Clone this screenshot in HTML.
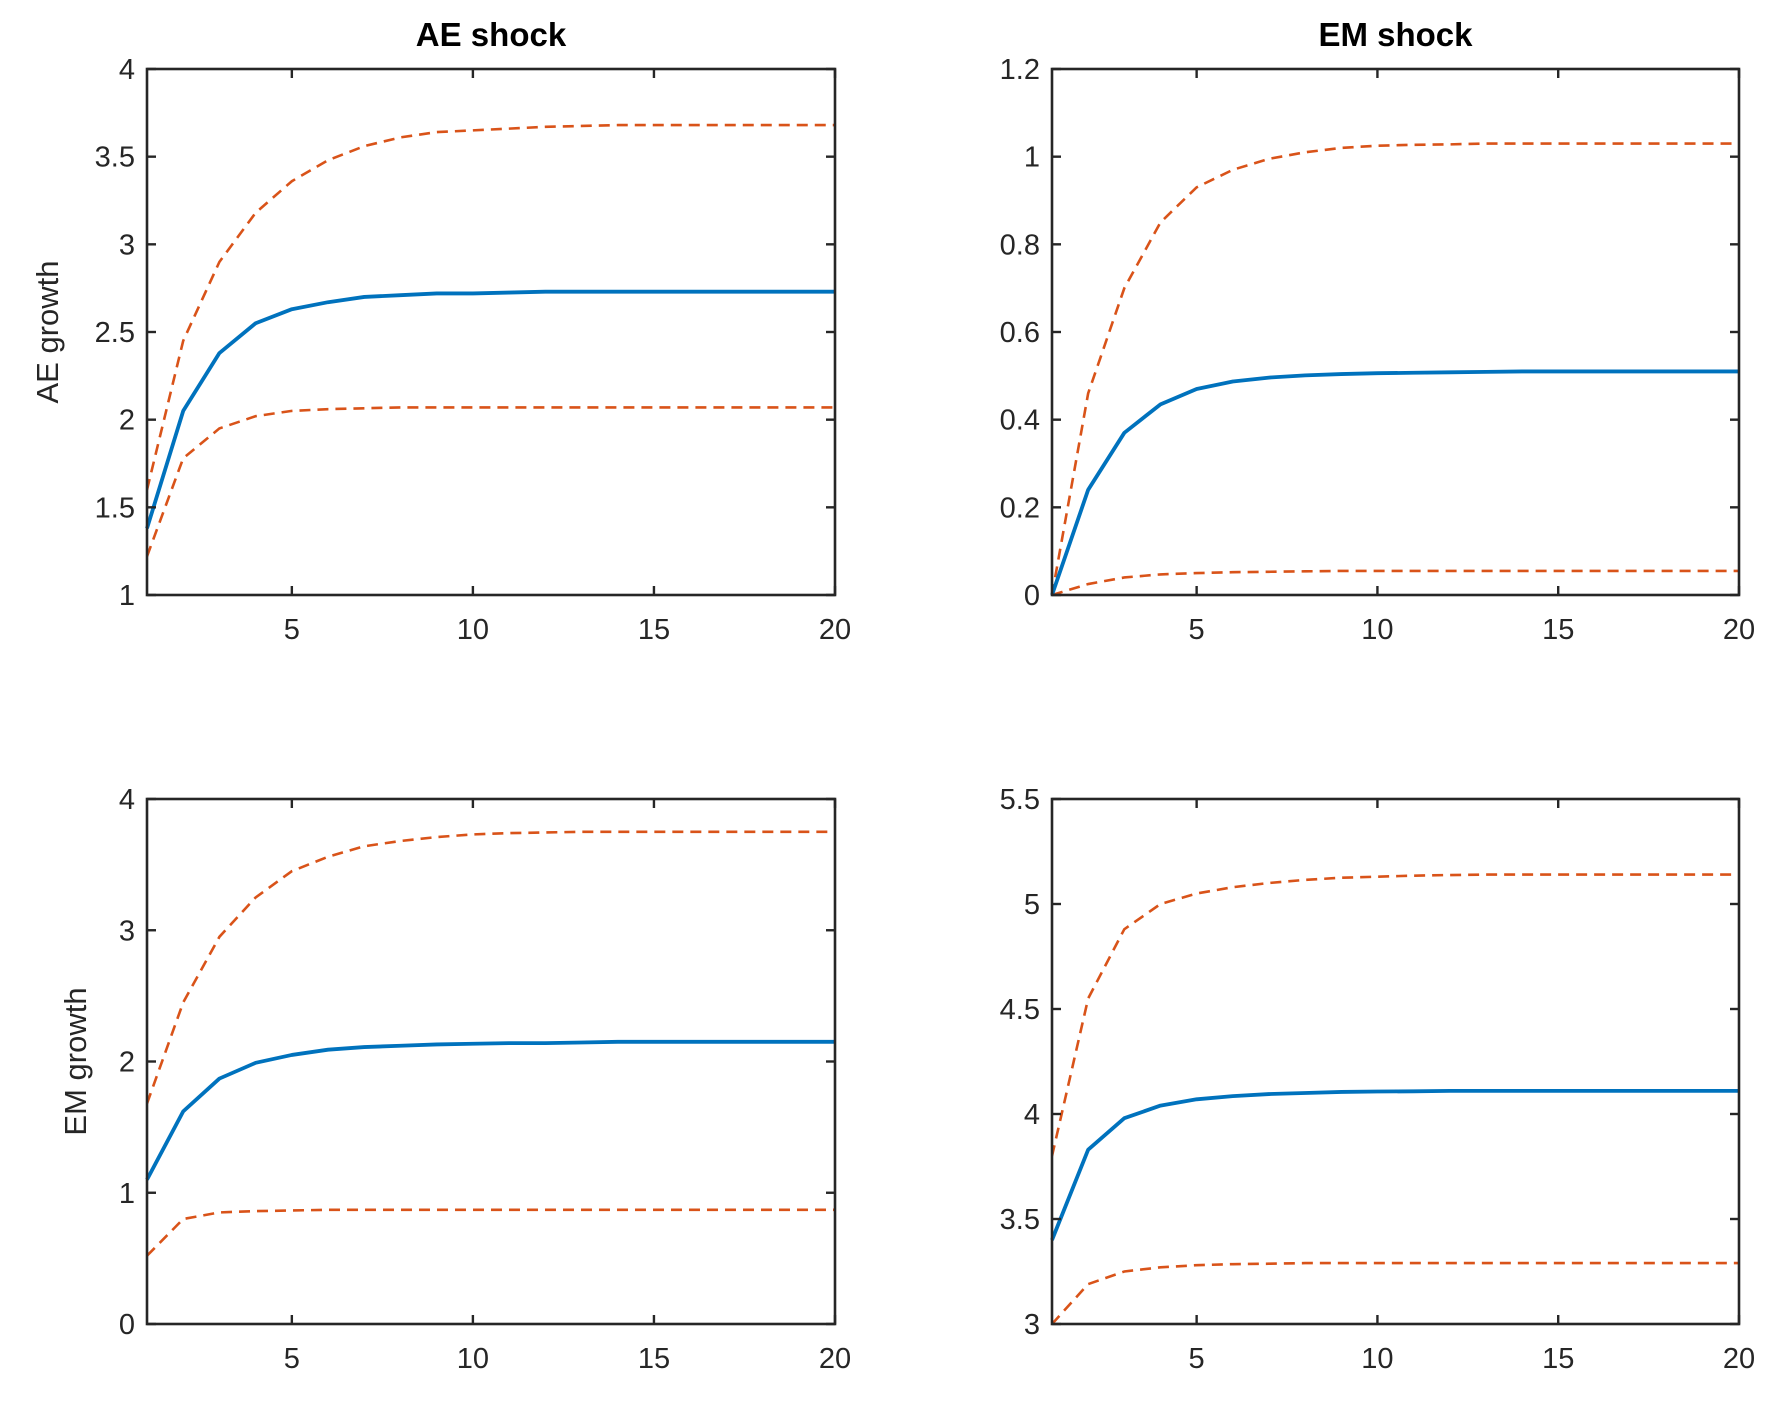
<!DOCTYPE html>
<html><head><meta charset="utf-8"><style>
body{margin:0;background:#fff;}
svg{display:block;font-family:"Liberation Sans",Arial,sans-serif;}
</style></head><body>
<svg id="fig" width="1792" height="1406" viewBox="0 0 1792 1406"></svg>
<script>
const xTicks=[5,10,15,20];
const periods=[1,2,3,4,5,6,7,8,9,10,11,12,13,14,15,16,17,18,19,20];
const aeAeMean=[1.38,2.05,2.38,2.55,2.63,2.67,2.70,2.71,2.72,2.72,2.725,2.73,2.73,2.73,2.73,2.73,2.73,2.73,2.73,2.73];
const aeAeUp=[1.6,2.45,2.9,3.18,3.36,3.48,3.56,3.61,3.64,3.65,3.66,3.67,3.675,3.68,3.68,3.68,3.68,3.68,3.68,3.68];
const aeAeLo=[1.22,1.78,1.95,2.02,2.05,2.06,2.065,2.07,2.07,2.07,2.07,2.07,2.07,2.07,2.07,2.07,2.07,2.07,2.07,2.07];
const emAeMean=[0,0.24,0.37,0.435,0.47,0.487,0.496,0.501,0.504,0.506,0.507,0.508,0.509,0.51,0.51,0.51,0.51,0.51,0.51,0.51];
const emAeUp=[0,0.46,0.7,0.85,0.93,0.97,0.995,1.01,1.02,1.025,1.027,1.028,1.03,1.03,1.03,1.03,1.03,1.03,1.03,1.03];
const emAeLo=[0,0.025,0.04,0.047,0.05,0.052,0.053,0.054,0.055,0.055,0.055,0.055,0.055,0.055,0.055,0.055,0.055,0.055,0.055,0.055];
const aeEmMean=[1.1,1.62,1.87,1.99,2.05,2.09,2.11,2.12,2.13,2.135,2.14,2.14,2.145,2.15,2.15,2.15,2.15,2.15,2.15,2.15];
const aeEmUp=[1.68,2.45,2.95,3.25,3.45,3.56,3.64,3.68,3.71,3.73,3.74,3.745,3.75,3.75,3.75,3.75,3.75,3.75,3.75,3.75];
const aeEmLo=[0.52,0.80,0.85,0.86,0.865,0.87,0.87,0.87,0.87,0.87,0.87,0.87,0.87,0.87,0.87,0.87,0.87,0.87,0.87,0.87];
const emEmMean=[3.4,3.83,3.98,4.04,4.07,4.085,4.095,4.10,4.105,4.107,4.108,4.11,4.11,4.11,4.11,4.11,4.11,4.11,4.11,4.11];
const emEmUp=[3.8,4.55,4.88,5.0,5.05,5.08,5.10,5.115,5.125,5.13,5.135,5.138,5.14,5.14,5.14,5.14,5.14,5.14,5.14,5.14];
const emEmLo=[3.0,3.19,3.25,3.27,3.28,3.285,3.287,3.29,3.29,3.29,3.29,3.29,3.29,3.29,3.29,3.29,3.29,3.29,3.29,3.29];
const yTicksTL=["1","1.5","2","2.5","3","3.5","4"];
const yTicksTR=["0","0.2","0.4","0.6","0.8","1","1.2"];
const yTicksBL=["0","1","2","3","4"];
const yTicksBR=["3","3.5","4","4.5","5","5.5"];

const NS="http://www.w3.org/2000/svg";
const svg=document.getElementById('fig');
function mk(tag,attrs,parent){const e=document.createElementNS(NS,tag);for(const k in attrs)e.setAttribute(k,attrs[k]);(parent||svg).appendChild(e);return e;}

function panel(name,L,T,W,H,yTicks,mean,up,lo,title,ylabel){
  const g=mk('g',{});
  
  
  const yMin=parseFloat(yTicks[0]),yMax=parseFloat(yTicks[yTicks.length-1]);
  const sx=v=>L+(v-1)/(20-1)*W;
  const sy=v=>T+H-(v-yMin)/(yMax-yMin)*H;
  const clip='clip-'+name;
  const cp=mk('clipPath',{id:clip},g);mk('rect',{x:L,y:T-3,width:W+3,height:H+6},cp);
  const bounds=[[lo,'lower-band'],[up,'upper-band']];
  for(const [arr,nm] of bounds){
    const p=mk('polyline',{points:periods.map((x,i)=>sx(x)+','+sy(arr[i])).join(' '),fill:'none',stroke:'#D95319','stroke-width':2.6,'stroke-dasharray':'11,7','clip-path':'url(#'+clip+')'},g);
    
    
  }
  const m=mk('polyline',{points:periods.map((x,i)=>sx(x)+','+sy(mean[i])).join(' '),fill:'none',stroke:'#0072BD','stroke-width':3.8,'stroke-linejoin':'round'},g);
  
  
  mk('rect',{x:L,y:T,width:W,height:H,fill:'none',stroke:'#262626','stroke-width':2.6},g);
  for(const t of xTicks){
    const x=sx(t);
    mk('line',{x1:x,y1:T+H,x2:x,y2:T+H-9,stroke:'#262626','stroke-width':2.4},g);
    mk('line',{x1:x,y1:T,x2:x,y2:T+9,stroke:'#262626','stroke-width':2.4},g);
    const tx=mk('text',{x:x,y:T+H+44,'text-anchor':'middle','font-size':29,fill:'#262626'},g);
    tx.textContent=t;
    
    
  }
  for(const t of yTicks){
    const y=sy(parseFloat(t));
    mk('line',{x1:L,y1:y,x2:L+9,y2:y,stroke:'#262626','stroke-width':2.4},g);
    mk('line',{x1:L+W,y1:y,x2:L+W-9,y2:y,stroke:'#262626','stroke-width':2.4},g);
    const ty=mk('text',{x:L-12,y:y+10,'text-anchor':'end','font-size':29,fill:'#262626'},g);
    ty.textContent=t;
    
    
  }
  if(title){
    const tt=mk('text',{x:L+W/2,y:T-23,'text-anchor':'middle','font-size':33,'font-weight':'bold',fill:'#000'},g);
    tt.textContent=title;
    
    
  }
  if(ylabel){
    const cx=ylabel[1],cy=T+H/2;
    const yl=mk('text',{x:cx,y:cy,'text-anchor':'middle','font-size':31,fill:'#262626',transform:'rotate(-90 '+cx+' '+cy+')'},g);
    yl.textContent=ylabel[0];
    
    
  }
}
panel('panel-ae-growth-ae-shock',147,69,688,526,yTicksTL,aeAeMean,aeAeUp,aeAeLo,'AE shock',['AE growth',58]);
panel('panel-ae-growth-em-shock',1052,69,687,526,yTicksTR,emAeMean,emAeUp,emAeLo,'EM shock',null);
panel('panel-em-growth-ae-shock',147,799,688,525,yTicksBL,aeEmMean,aeEmUp,aeEmLo,null,['EM growth',86]);
panel('panel-em-growth-em-shock',1052,799,687,525,yTicksBR,emEmMean,emEmUp,emEmLo,null,null);
</script>
</body></html>
